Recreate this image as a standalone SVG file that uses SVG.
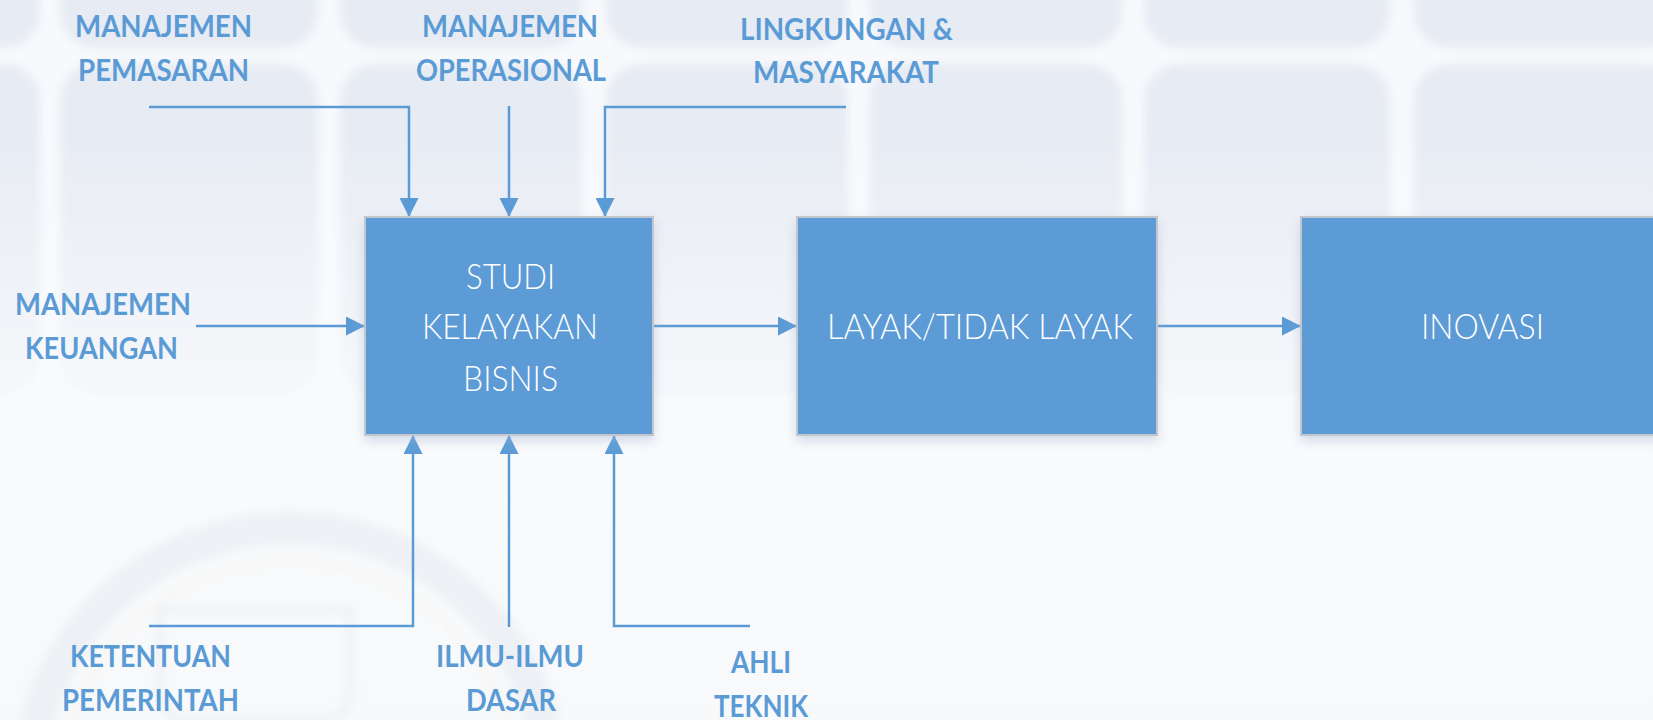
<svg xmlns="http://www.w3.org/2000/svg" width="1653" height="720" viewBox="0 0 1653 720">
  <style>
    .lbl { font-family: Lato, "Open Sans", "Liberation Sans", sans-serif; font-weight: 700; font-size: 30px; fill: #5B9BD5; }
    .btxt { font-family: Lato, "Open Sans", "Liberation Sans", sans-serif; font-weight: 300; font-size: 35px; fill: #FFFFFF; }
    .box { fill: #5B9BD5; stroke: #C3C7CC; stroke-width: 2; }
    .con { fill: none; stroke: #5B9BD5; stroke-width: 2.5; }
    .tile { fill: #E7EBF3; }
  </style>
  <defs>
    <marker id="arr" markerUnits="userSpaceOnUse" viewBox="0 0 20 20" refX="20" refY="10" markerWidth="20" markerHeight="19" orient="auto">
      <path d="M0,0 L20,10 L0,20 Z" fill="#5B9BD5"/>
    </marker>
    <linearGradient id="fade" x1="0" y1="0" x2="0" y2="1">
      <stop offset="0" stop-color="#FAFBFD" stop-opacity="0"/>
      <stop offset="0.4" stop-color="#FAFBFD" stop-opacity="0.7"/>
      <stop offset="1" stop-color="#F8F9FB" stop-opacity="0.97"/>
    </linearGradient>
    <filter id="soft" x="-5%" y="-5%" width="110%" height="110%">
      <feGaussianBlur stdDeviation="5"/>
    </filter>
    <filter id="shadow" x="-10%" y="-10%" width="120%" height="130%">
      <feDropShadow dx="0" dy="5" stdDeviation="6" flood-color="#9FB3D1" flood-opacity="0.45"/>
    </filter>
  </defs>

  <!-- background -->
  <g id="background">
    <rect x="0" y="0" width="1653" height="720" fill="#F7F9FC"/>
    <g filter="url(#soft)">
      <rect class="tile" x="-200" y="-200" width="240" height="248" rx="36"/>
      <rect class="tile" x="60" y="-200" width="258" height="248" rx="36"/>
      <rect class="tile" x="340" y="-200" width="242" height="248" rx="36"/>
      <rect class="tile" x="606" y="-200" width="242" height="248" rx="36"/>
      <rect class="tile" x="870" y="-200" width="252" height="248" rx="36"/>
      <rect class="tile" x="1144" y="-200" width="246" height="248" rx="36"/>
      <rect class="tile" x="1414" y="-200" width="266" height="248" rx="36"/>
      <rect class="tile" x="-200" y="64" width="240" height="330" rx="36"/>
      <rect class="tile" x="60" y="64" width="258" height="330" rx="36"/>
      <rect class="tile" x="340" y="64" width="242" height="330" rx="36"/>
      <rect class="tile" x="606" y="64" width="242" height="330" rx="36"/>
      <rect class="tile" x="870" y="64" width="252" height="330" rx="36"/>
      <rect class="tile" x="1144" y="64" width="246" height="330" rx="36"/>
      <rect class="tile" x="1414" y="64" width="266" height="330" rx="36"/>
    </g>
    <rect x="0" y="130" width="1653" height="590" fill="url(#fade)"/>
    <g opacity="0.22" fill="none" filter="url(#soft)">
      <circle cx="290" cy="790" r="262" stroke="#C9D1DE" stroke-width="34"/>
      <circle cx="290" cy="790" r="228" stroke="#E6E2C4" stroke-width="5"/>
      <path d="M160,610 L350,610 L350,690 Q350,720 320,720 L190,720 Q160,720 160,690 Z" stroke="#CDD4DF" stroke-width="8"/>
    </g>
  </g>

  <!-- connectors -->
  <g id="connectors">
    <polyline class="con" points="149,107 409,107 409,217" marker-end="url(#arr)"/>
    <polyline class="con" points="509,106 509,217" marker-end="url(#arr)"/>
    <polyline class="con" points="846,107 605,107 605,217" marker-end="url(#arr)"/>
    <polyline class="con" points="196,326 365,326" marker-end="url(#arr)"/>
    <polyline class="con" points="653,326 797,326" marker-end="url(#arr)"/>
    <polyline class="con" points="1157,326 1301,326" marker-end="url(#arr)"/>
    <polyline class="con" points="149,626 413,626 413,435" marker-end="url(#arr)"/>
    <polyline class="con" points="509,627 509,435" marker-end="url(#arr)"/>
    <polyline class="con" points="750,626 614,626 614,435" marker-end="url(#arr)"/>
  </g>

  <!-- main boxes -->
  <g id="node-studi">
    <rect class="box" x="365" y="217" width="288" height="218" filter="url(#shadow)"/>
    <text class="btxt" x="466" y="289" textLength="89" lengthAdjust="spacingAndGlyphs">STUDI</text>
    <text class="btxt" x="422" y="339" textLength="176" lengthAdjust="spacingAndGlyphs">KELAYAKAN</text>
    <text class="btxt" x="463" y="391" textLength="95" lengthAdjust="spacingAndGlyphs">BISNIS</text>
  </g>
  <g id="node-layak">
    <rect class="box" x="797" y="217" width="360" height="218" filter="url(#shadow)"/>
    <text class="btxt" x="827" y="339" textLength="306" lengthAdjust="spacingAndGlyphs">LAYAK/TIDAK LAYAK</text>
  </g>
  <g id="node-inovasi">
    <rect class="box" x="1301" y="217" width="370" height="218" filter="url(#shadow)"/>
    <text class="btxt" x="1421" y="339" textLength="123" lengthAdjust="spacingAndGlyphs">INOVASI</text>
  </g>

  <!-- input labels -->
  <g id="label-pemasaran">
    <text class="lbl" x="75" y="37" textLength="177" lengthAdjust="spacingAndGlyphs">MANAJEMEN</text>
    <text class="lbl" x="78" y="81" textLength="171" lengthAdjust="spacingAndGlyphs">PEMASARAN</text>
  </g>
  <g id="label-operasional">
    <text class="lbl" x="422" y="37" textLength="176" lengthAdjust="spacingAndGlyphs">MANAJEMEN</text>
    <text class="lbl" x="416" y="81" textLength="190" lengthAdjust="spacingAndGlyphs">OPERASIONAL</text>
  </g>
  <g id="label-lingkungan">
    <text class="lbl" x="740" y="40" textLength="213" lengthAdjust="spacingAndGlyphs">LINGKUNGAN &amp;</text>
    <text class="lbl" x="753" y="83" textLength="186" lengthAdjust="spacingAndGlyphs">MASYARAKAT</text>
  </g>
  <g id="label-keuangan">
    <text class="lbl" x="15" y="315" textLength="176" lengthAdjust="spacingAndGlyphs">MANAJEMEN</text>
    <text class="lbl" x="25" y="359" textLength="153" lengthAdjust="spacingAndGlyphs">KEUANGAN</text>
  </g>
  <g id="label-ketentuan">
    <text class="lbl" x="70" y="667" textLength="161" lengthAdjust="spacingAndGlyphs">KETENTUAN</text>
    <text class="lbl" x="62" y="711" textLength="177" lengthAdjust="spacingAndGlyphs">PEMERINTAH</text>
  </g>
  <g id="label-ilmu">
    <text class="lbl" x="436" y="667" textLength="148" lengthAdjust="spacingAndGlyphs">ILMU-ILMU</text>
    <text class="lbl" x="466" y="711" textLength="90" lengthAdjust="spacingAndGlyphs">DASAR</text>
  </g>
  <g id="label-ahli">
    <text class="lbl" x="731" y="673" textLength="60" lengthAdjust="spacingAndGlyphs">AHLI</text>
    <text class="lbl" x="714" y="717" textLength="94" lengthAdjust="spacingAndGlyphs">TEKNIK</text>
  </g>
</svg>
